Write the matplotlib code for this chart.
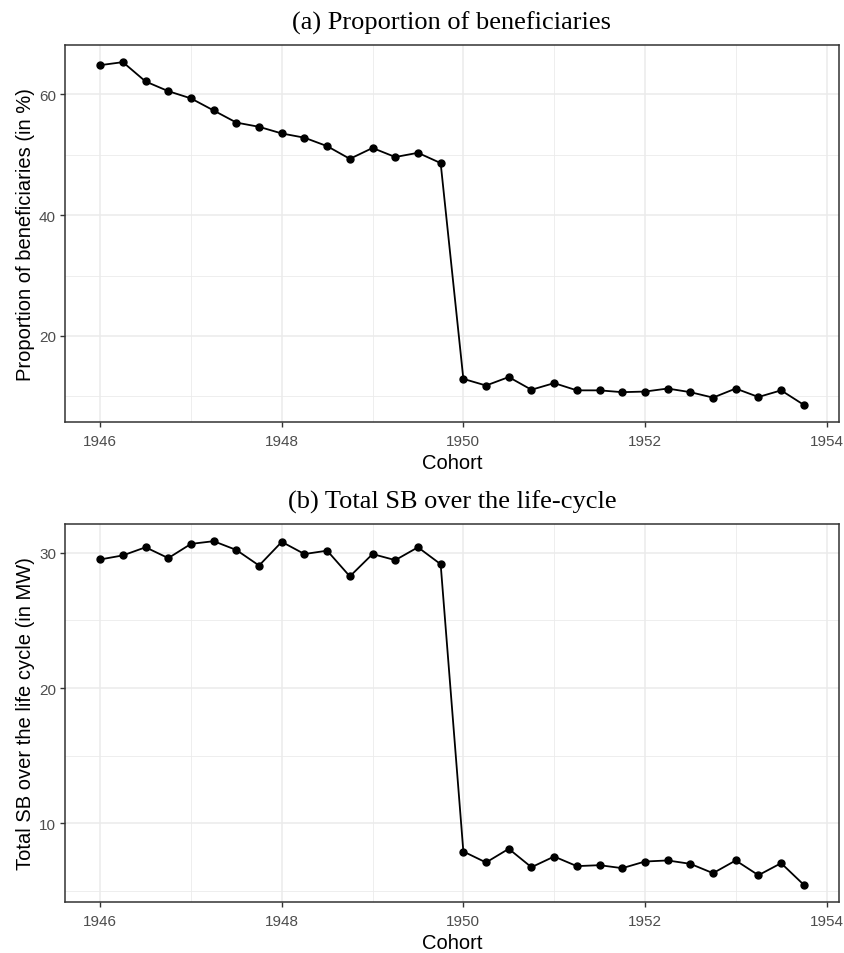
import numpy as np
import matplotlib
matplotlib.use("Agg")
import matplotlib.pyplot as plt
from matplotlib.ticker import MultipleLocator

# Quarterly birth cohorts, 1946Q1 to 1953Q4
cohort = np.arange(1946, 1954, 0.25)

# (a) share of beneficiaries, in %
share = [64.8, 65.3, 62.1, 60.5, 59.3, 57.3, 55.3, 54.6,
         53.5, 52.8, 51.4, 49.3, 51.1, 49.6, 50.3, 48.6,
         12.9, 11.8, 13.2, 11.1, 12.2, 11.0, 11.0, 10.7,
         10.8, 11.3, 10.7, 9.8, 11.3, 9.9, 11.0, 8.6]

# (b) total SB over the life cycle, in MW
total_sb = [29.5, 29.8, 30.4, 29.6, 30.65, 30.85, 30.2, 29.05,
            30.8, 29.9, 30.15, 28.25, 29.9, 29.45, 30.4, 29.15,
            7.93, 7.12, 8.13, 6.77, 7.56, 6.85, 6.92, 6.70,
            7.19, 7.27, 7.02, 6.33, 7.27, 6.18, 7.07, 5.47]

titles = ["(a) Proportion of beneficiaries", "(b) Total SB over the life-cycle"]
ylabels = ["Proportion of beneficiaries (in %)", "Total SB over the life cycle (in MW)"]
ymajor = [20, 10]

plt.rcParams["font.family"] = ["Liberation Sans", "DejaVu Sans"]

fig = plt.figure(figsize=(8.45, 9.54), dpi=100)
W, H = 845, 954
boxes = [(65, 46, 839, 423), (65, 525, 839, 903)]

for i, (vals, box) in enumerate(zip([share, total_sb], boxes)):
    x0, y0, x1, y1 = box
    ax = fig.add_axes([x0 / W, 1 - y1 / H, (x1 - x0) / W, (y1 - y0) / H])
    ax.plot(cohort, vals, color="black", lw=1.3, marker="o", ms=5, zorder=3)

    lo, hi = min(vals), max(vals)
    pad = 0.05 * (hi - lo)
    ax.set_ylim(lo - pad, hi + pad)
    xpad = 0.05 * (cohort[-1] - cohort[0])
    ax.set_xlim(cohort[0] - xpad, cohort[-1] + xpad)

    ax.xaxis.set_major_locator(MultipleLocator(2))
    ax.xaxis.set_minor_locator(MultipleLocator(1))
    ax.yaxis.set_major_locator(MultipleLocator(ymajor[i]))
    ax.yaxis.set_minor_locator(MultipleLocator(ymajor[i] / 2))
    ax.xaxis.set_major_formatter(plt.FuncFormatter(lambda v, p: f"{v:.0f}"))

    ax.grid(which="major", color="#EBEBEB", lw=1.1, zorder=0)
    ax.grid(which="minor", color="#EBEBEB", lw=0.6, zorder=0)
    ax.set_axisbelow(True)
    for s in ax.spines.values():
        s.set_color("#333333")
        s.set_linewidth(1.1)
    ax.tick_params(which="major", length=3.5, width=1, color="#333333",
                   labelcolor="#4D4D4D", labelsize=11, pad=3)
    ax.tick_params(axis="x", which="major", pad=5.5)
    ax.tick_params(which="minor", length=0)

    ax.set_xlabel("Cohort", fontsize=14.5, labelpad=3)
    ax.set_ylabel(ylabels[i], fontsize=14.5, labelpad=3)
    ax.set_title(titles[i], fontsize=19, family=["Liberation Serif", "DejaVu Serif"], pad=12)

fig.savefig("out.png", dpi=100)
